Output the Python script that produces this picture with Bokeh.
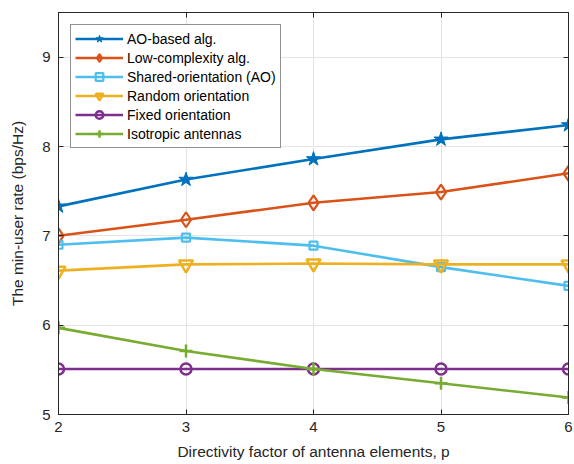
from bokeh.plotting import figure
from bokeh.models import Range1d, LinearAxis, FixedTicker, Legend, LegendItem
from bokeh.embed import file_html
from bokeh.resources import INLINE

p_vals = [2, 3, 4, 5, 6]
ao_based = [7.33, 7.63, 7.86, 8.08, 8.24]
low_complexity = [7.00, 7.18, 7.37, 7.49, 7.70]
shared_orientation = [6.90, 6.98, 6.89, 6.65, 6.44]
random_orientation = [6.61, 6.68, 6.69, 6.68, 6.68]
fixed_orientation = [5.51, 5.51, 5.51, 5.51, 5.51]
isotropic = [5.97, 5.71, 5.51, 5.35, 5.19]

names = ["AO-based alg.", "Low-complexity alg.", "Shared-orientation (AO)",
         "Random orientation", "Fixed orientation", "Isotropic antennas"]
colors = ["#0072BD", "#D95319", "#4DBEEE", "#EDB120", "#7E2F8E", "#77AC30"]
x_ticks = [2, 3, 4, 5, 6]
y_ticks = [5, 6, 7, 8, 9]

FONT = "Liberation Sans"

p = figure(width=574, height=464, output_backend="svg", toolbar_location=None,
           x_range=Range1d(2, 6), y_range=Range1d(5, 9.5),
           min_border_left=58, min_border_right=6, min_border_top=12, min_border_bottom=50,
           x_axis_label="Directivity factor of antenna elements, p",
           y_axis_label="The min-user rate (bps/Hz)")
p.outline_line_color = "#262626"
p.outline_line_width = 1
p.background_fill_color = "white"
p.border_fill_color = "white"

for ax in p.xaxis + p.yaxis:
    ax.axis_line_color = "#262626"
    ax.major_tick_line_color = "#262626"
    ax.major_tick_in = 5
    ax.major_tick_out = 0
    ax.minor_tick_line_color = None
    ax.major_label_text_font = FONT
    ax.major_label_text_font_size = "15px"
    ax.major_label_text_color = "#262626"
    ax.axis_label_text_font = FONT
    ax.axis_label_text_font_size = "15.5px"
    ax.axis_label_text_font_style = "normal"
    ax.axis_label_text_color = "#262626"
p.xaxis.ticker = FixedTicker(ticks=x_ticks)
p.yaxis.ticker = FixedTicker(ticks=y_ticks)
p.xaxis.major_label_standoff = 7
p.yaxis.major_label_standoff = 8
p.xaxis.axis_label_standoff = 8
p.yaxis.axis_label_standoff = 13

for loc, tk in (("right", y_ticks), ("above", x_ticks)):
    ax = LinearAxis(ticker=FixedTicker(ticks=tk), major_label_text_font_size="1px",
                    major_label_text_color=None,
                    major_label_standoff=0, major_tick_in=5, major_tick_out=0,
                    minor_tick_line_color=None, axis_line_color="#262626",
                    major_tick_line_color="#262626")
    p.add_layout(ax, loc)

p.xgrid.ticker = FixedTicker(ticks=x_ticks)
p.ygrid.ticker = FixedTicker(ticks=y_ticks)
p.grid.grid_line_color = "#e3e3e3"
p.grid.grid_line_width = 1

series = [ao_based, low_complexity, shared_orientation, random_orientation,
          fixed_orientation, isotropic]
items = []
lw = 2.6
for i, (name, col, ys) in enumerate(zip(names, colors, series)):
    r_line = p.line(p_vals, ys, line_color=col, line_width=lw)
    if i == 0:
        r_m = p.scatter(p_vals, ys, marker="star", size=15, fill_color=col, line_color=col, line_width=1)
    elif i == 1:
        r_m = p.scatter(p_vals, ys, marker="diamond", size=15, fill_color="white", fill_alpha=0,
                        line_color=col, line_width=2.2)
    elif i == 2:
        r_m = p.scatter(p_vals, ys, marker="square", size=8, fill_color="white", fill_alpha=0,
                        line_color=col, line_width=2.2)
    elif i == 3:
        r_m = p.scatter(p_vals, ys, marker="inverted_triangle", size=14, fill_color="white", fill_alpha=0,
                        line_color=col, line_width=2.5)
    elif i == 4:
        r_m = p.scatter(p_vals, ys, marker="circle", size=11, fill_color="white", fill_alpha=0,
                        line_color=col, line_width=2.5)
    else:
        r_m = p.scatter(p_vals, ys, marker="cross", size=13, line_color=col, line_width=2.5)
    items.append(LegendItem(label=name, renderers=[r_line, r_m]))

legend = Legend(items=items, location="top_left", margin=12,
                border_line_color="#262626", border_line_width=1,
                background_fill_color="white", background_fill_alpha=1,
                label_text_font=FONT, label_text_font_size="14px", label_text_color="#000000",
                glyph_width=48, glyph_height=19, label_height=19, spacing=0,
                padding=4, label_standoff=4)
p.add_layout(legend, "center")

open("out.html", "w").write(file_html(p, INLINE))
